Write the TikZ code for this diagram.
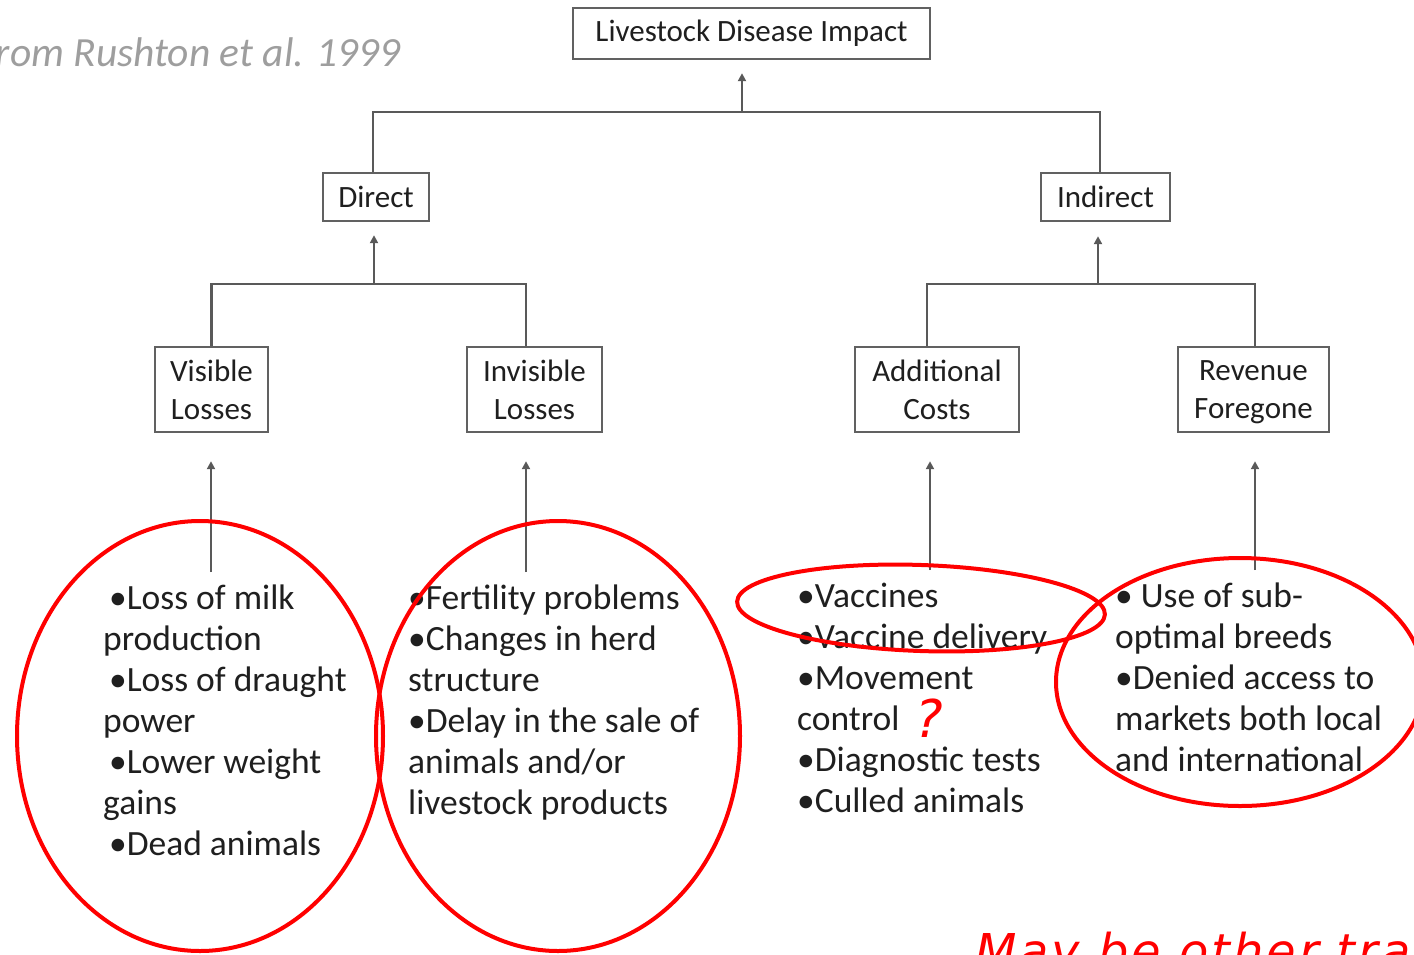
\documentclass[tikz,border=0pt]{standalone}
\usepackage{fontspec}
\setmainfont{Carlito}
\newfontfamily\handfont[LetterSpace=6]{DejaVu Sans}
\usetikzlibrary{arrows.meta}

% stacked lines with a fixed line pitch; baseline = first line
\newcommand\textlines[1]{\vtop{\baselineskip=41pt\lineskiplimit=-1000pt\lineskip=0pt
  \def\\{\egroup\hbox\bgroup}\hbox\bgroup#1\egroup}}

\begin{document}
\begin{tikzpicture}[x=1pt,y=-1pt,
  box/.style={draw=black!62, line width=2.4pt, fill=white, inner sep=0pt,
    align=center, text=black!88, font=\fontsize{31}{38}\selectfont},
  link/.style={draw=black!65, line width=2.4pt},
  up/.style={link, -{Triangle[length=8pt,width=8pt]}},
  items/.style={anchor=base west, inner sep=0pt, text=black!88,
    font=\fontsize{35.5}{41}\selectfont},
  ring/.style={draw=red, line width=4pt},
  handnote/.style={text=red, font=\handfont\itshape\fontsize{48}{48}\selectfont},
]
\useasboundingbox (0,0) rectangle (1414,954);
\clip (0,0) rectangle (1414,954);

% citation
\node[anchor=base west, inner sep=0pt, text=black!38,
  font=\itshape\fontsize{41.5}{42}\selectfont] (src) at (-17,66) {from Rushton et al. 1999};

% boxes
\node[box, minimum width=357pt, minimum height=51pt] (top) at (751.5,33.5) {Livestock Disease Impact};
\node[box, minimum width=106pt, minimum height=48pt] (direct) at (376,197) {Direct};
\node[box, minimum width=129pt, minimum height=48pt] (indirect) at (1105.5,197) {Indirect};
\node[box, minimum width=113pt, minimum height=85pt] (vis) at (211.5,389.5) {Visible\\Losses};
\node[box, minimum width=135pt, minimum height=85pt] (invis) at (534.5,389.5) {Invisible\\Losses};
\node[box, minimum width=164pt, minimum height=85pt] (addc) at (937,389.5) {Additional\\Costs};
\node[box, minimum width=151pt, minimum height=85pt] (rev) at (1253.5,389.5) {Revenue\\Fore\smash{g}one};

% tree connectors
\coordinate (jt) at (742,112);
\coordinate (jd) at (374,284);
\coordinate (ji) at (1098,284);
\draw[link] ([xshift=-3pt]direct.north) |- (jt) -| ([xshift=-5.5pt]indirect.north);
\draw[up] (jt) -- ([xshift=-9.5pt,yshift=-13pt]top.south);
\draw[link] (vis.north) |- (jd) -| ([xshift=-8.5pt]invis.north);
\draw[up] (jd) -- ([xshift=-2pt,yshift=-13pt]direct.south);
\draw[link] ([xshift=-10pt]addc.north) |- (ji) -| ([xshift=1.5pt]rev.north);
\draw[up] (ji) -- ([xshift=-7.5pt,yshift=-14pt]indirect.south);

% lists
\node[items] (l1) at (103,609) {\textlines{\,•Loss of milk\\production\\\,•Loss of draught\\power\\\,•Lower weight\\gains\\\,•Dead animals}};
\node[items] (l2) at (408,609) {\textlines{•Fertility problems\\•Changes in herd\\structure\\•Delay in the sale of\\animals and/or\\livestock products}};
\node[items] (l3) at (797,607) {\textlines{•Vaccines\\•Vaccine delivery\\•Movement\\control\\•Diagnostic tests\\•Culled animals}};
\node[items] (l4) at (1115,607) {\textlines{• Use of sub-\\optimal breeds\\•Denied access to\\markets both local\\and international}};

% list-to-box arrows
\coordinate (s1) at (211,572);
\coordinate (s2) at (526,572);
\coordinate (s3) at (930,570);
\coordinate (s4) at (1255,570);
\draw[up] (s1) -- ([xshift=-0.5pt,yshift=-28pt]vis.south);
\draw[up] (s2) -- ([xshift=-8.5pt,yshift=-28pt]invis.south);
\draw[up] (s3) -- ([xshift=-7pt,yshift=-28pt]addc.south);
\draw[up] (s4) -- ([xshift=1.5pt,yshift=-28pt]rev.south);

% red annotations
\draw[ring] (200,736) ellipse [x radius=183pt, y radius=215pt];
\draw[ring] (558,736) ellipse [x radius=182pt, y radius=215pt];
\draw[ring, rotate around={-2:(921,608)}] (921,608) ellipse [x radius=184pt, y radius=43pt];
\draw[ring] (1240,682) ellipse [x radius=184pt, y radius=124pt];
\node[handnote, font=\handfont\itshape\fontsize{52}{52}\selectfont, inner sep=0pt] (qm) at (929,718) {?};
\node[handnote, anchor=base west, inner sep=0pt] (note) at (975,968) {May be other tra};
\end{tikzpicture}
\end{document}
